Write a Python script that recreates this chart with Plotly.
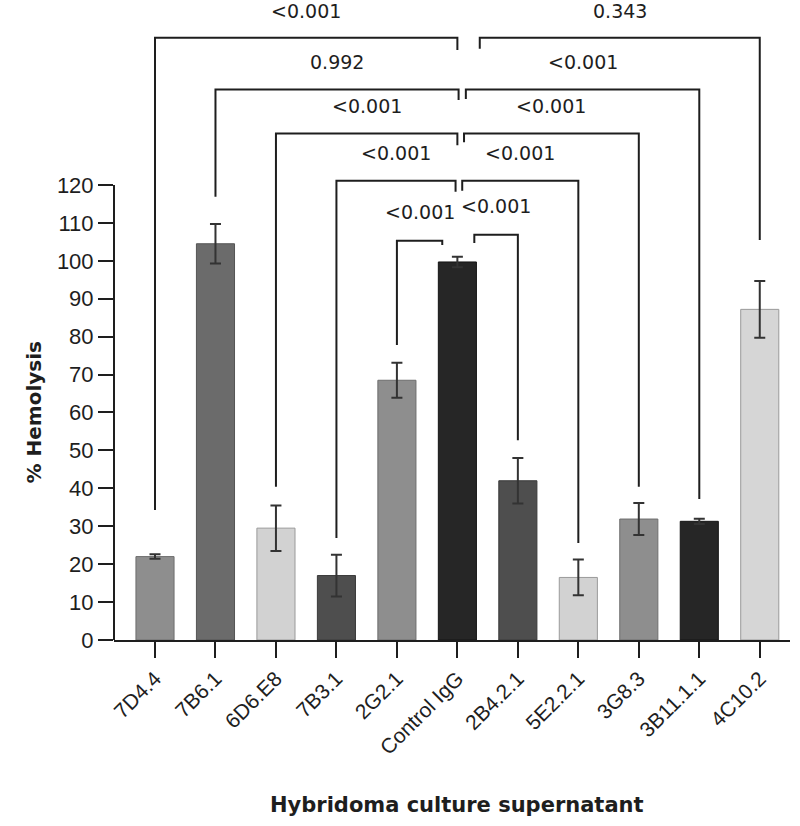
import plotly.graph_objects as go

# ---------------- data ----------------
categories = ["7D4.4", "7B6.1", "6D6.E8", "7B3.1", "2G2.1", "Control IgG",
              "2B4.2.1", "5E2.2.1", "3G8.3", "3B11.1.1", "4C10.2"]
hemolysis = [22.0, 104.5, 29.5, 17.0, 68.5, 99.7, 42.0, 16.5, 31.9, 31.3, 87.2]
error = [0.6, 5.2, 6.0, 5.5, 4.6, 1.4, 6.0, 4.7, 4.2, 0.7, 7.5]
bar_colors = ["#8e8e8e", "#6b6b6b", "#d2d2d2", "#4e4e4e", "#8e8e8e", "#262626",
              "#4e4e4e", "#d2d2d2", "#8e8e8e", "#262626", "#d6d6d6"]
bar_edges = ["#6e6e6e", "#555555", "#9a9a9a", "#3a3a3a", "#6e6e6e", "#151515",
             "#3a3a3a", "#9a9a9a", "#6e6e6e", "#151515", "#9a9a9a"]
y_ticks = list(range(0, 121, 10))

# pairwise comparisons against the control
control = "Control IgG"
cmp_group = ["7D4.4", "4C10.2", "7B6.1", "3B11.1.1", "6D6.E8", "3G8.3",
             "7B3.1", "5E2.2.1", "2G2.1", "2B4.2.1"]
cmp_p = ["<0.001", "0.343", "0.992", "<0.001", "<0.001", "<0.001",
         "<0.001", "<0.001", "<0.001", "<0.001"]
cmp_level = [158.8, 158.8, 145.2, 145.2, 133.6, 133.6, 121.1, 121.1, 105.3, 106.9]
cmp_group_end = [34.3, 105.5, 116.9, 37.2, 40.4, 40.4, 26.9, 25.6, 77.8, 52.7]
cmp_ctrl_offset = [0.0, 0.37, 0.02, 0.14, 0.0, 0.11, -0.03, 0.08, -0.25, 0.28]
cmp_ctrl_end = [155.6, 155.9, 142.4, 142.7, 130.5, 131.3, 118.2, 118.5, 104.2, 104.7]
label_lift = [7.0, 7.0, 7.2, 7.2, 7.3, 7.3, 7.3, 7.3, 7.5, 7.5]

# ---------------- figure ----------------
xs = list(range(len(categories)))
ci = categories.index(control)
ink = "#1e1e1e"

fig = go.Figure()
fig.add_trace(go.Bar(
    x=xs, y=hemolysis, width=0.63,
    marker=dict(color=bar_colors, line=dict(color=bar_edges, width=1)),
    error_y=dict(type="data", array=error, visible=True,
                 color="#333333", thickness=2, width=5.5),
    showlegend=False, hoverinfo="skip",
))

annotations = []
for g, p, lev, gend, off, cend, lift in zip(cmp_group, cmp_p, cmp_level,
                                            cmp_group_end, cmp_ctrl_offset,
                                            cmp_ctrl_end, label_lift):
    gi = categories.index(g)
    cx = ci + off
    fig.add_trace(go.Scatter(
        x=[gi, gi, cx, cx], y=[gend, lev, lev, cend], mode="lines",
        line=dict(color=ink, width=2), showlegend=False, hoverinfo="skip",
    ))
    annotations.append(dict(
        x=(gi + cx) / 2, y=lev + lift, xref="x", yref="y", text=p,
        showarrow=False, font=dict(family="DejaVu Sans", size=19, color=ink),
        xanchor="center", yanchor="middle",
    ))

# y-axis line only from 0 to 120
fig.add_shape(type="line", xref="paper", yref="y", x0=0, x1=0, y0=0, y1=120,
              line=dict(color=ink, width=2))

annotations.append(dict(
    x=0, xref="paper", xshift=-80, y=60, yref="y", text="<b>% Hemolysis</b>",
    textangle=-90, showarrow=False, xanchor="center", yanchor="middle",
    font=dict(family="DejaVu Sans", size=20, color=ink),
))
annotations.append(dict(
    x=ci, xref="x", y=0, yref="paper", yshift=-165,
    text="<b>Hybridoma culture supernatant</b>", showarrow=False,
    xanchor="center", yanchor="middle",
    font=dict(family="DejaVu Sans", size=21, color=ink),
))

fig.update_layout(
    width=800, height=826,
    margin=dict(l=114, r=10, t=10, b=186),
    paper_bgcolor="white", plot_bgcolor="white",
    annotations=annotations,
    bargap=0.3,
)
fig.update_xaxes(
    range=[-0.678, 10.5], tickmode="array", tickvals=xs, ticktext=categories,
    tickangle=-45, showline=True, linecolor=ink, linewidth=2,
    ticks="outside", ticklen=16, tickwidth=2, tickcolor=ink,
    showgrid=False, zeroline=False, automargin=False,
    tickfont=dict(family="Liberation Sans", size=21, color=ink),
)
fig.update_yaxes(
    range=[0, 166.15], tickmode="array", tickvals=y_ticks,
    showline=False, ticks="outside", ticklen=15, tickwidth=2, tickcolor=ink,
    showgrid=False, zeroline=False, automargin=False,
    tickfont=dict(family="Liberation Sans", size=22, color=ink),
)

fig.write_html("out.html")
